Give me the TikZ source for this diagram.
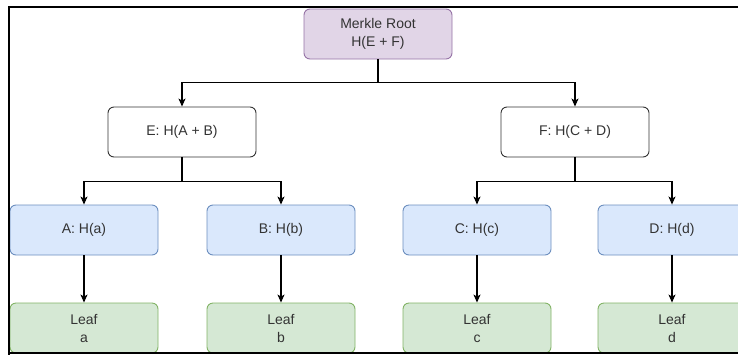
\documentclass[tikz,border=0pt]{standalone}
\usepackage{fontspec}
\setmainfont{Liberation Sans}
\usetikzlibrary{arrows.meta}

\definecolor{rootfill}{HTML}{E1D5E7}
\definecolor{rootline}{HTML}{9673A6}
\definecolor{hashfill}{HTML}{DAE8FC}
\definecolor{hashline}{HTML}{6C8EBF}
\definecolor{leaffill}{HTML}{D5E8D4}
\definecolor{leafline}{HTML}{82B366}
\definecolor{txt}{HTML}{333333}

\tikzset{
  box/.style={draw, rounded corners=6pt, line width=0.9pt,
    minimum width=148pt, minimum height=50pt, inner sep=0pt,
    align=center, text=txt, font=\fontsize{14}{18}\selectfont},
  rootbox/.style={box, fill=rootfill, draw=rootline},
  innerbox/.style={box, fill=white, draw=black!80},
  hashbox/.style={box, fill=hashfill, draw=hashline},
  leafbox/.style={box, fill=leaffill, draw=leafline},
  arr/.style={line width=1.1pt, -{Stealth[length=8pt, width=7pt, inset=2pt]}},
  frame/.style={line width=2pt, black}
}

\begin{document}
\begin{tikzpicture}[x=1pt, y=-1pt]
  \useasboundingbox (0,0) rectangle (738,354);
  \clip (0,0) rectangle (738,354);

  % root and inner hashes
  \node[rootbox]  (root) at (378,34)  {Merkle Root\\H(E + F)};
  \node[innerbox] (E)    at (182,132) {E: H(A + B)};
  \node[innerbox] (F)    at (575,132) {F: H(C + D)};

  % leaf hashes
  \node[hashbox] (A) at (84,230)  {A: H(a)};
  \node[hashbox] (B) at (281,230) {B: H(b)};
  \node[hashbox] (C) at (477,230) {C: H(c)};
  \node[hashbox] (D) at (672,230) {D: H(d)};

  % data leaves
  \node[leafbox] (la) at (84,328)  {Leaf\\a};
  \node[leafbox] (lb) at (281,328) {Leaf\\b};
  \node[leafbox] (lc) at (477,328) {Leaf\\c};
  \node[leafbox] (ld) at (672,328) {Leaf\\d};

  % tree connectors
  \draw[arr] (root.south) -- ++(0,23) -| (E.north);
  \draw[arr] (root.south) -- ++(0,23) -| (F.north);
  \draw[arr] (E.south) -- ++(0,24) -| (A.north);
  \draw[arr] (E.south) -- ++(0,24) -| (B.north);
  \draw[arr] (F.south) -- ++(0,24) -| (C.north);
  \draw[arr] (F.south) -- ++(0,24) -| (D.north);
  \draw[arr] (A.south) -- (la.north);
  \draw[arr] (B.south) -- (lb.north);
  \draw[arr] (C.south) -- (lc.north);
  \draw[arr] (D.south) -- (ld.north);

  % surrounding frame
  \draw[frame] (9,360) -- (9,7) -- (745,7);
  \draw[frame] (9,353) -- (745,353);
\end{tikzpicture}
\end{document}
